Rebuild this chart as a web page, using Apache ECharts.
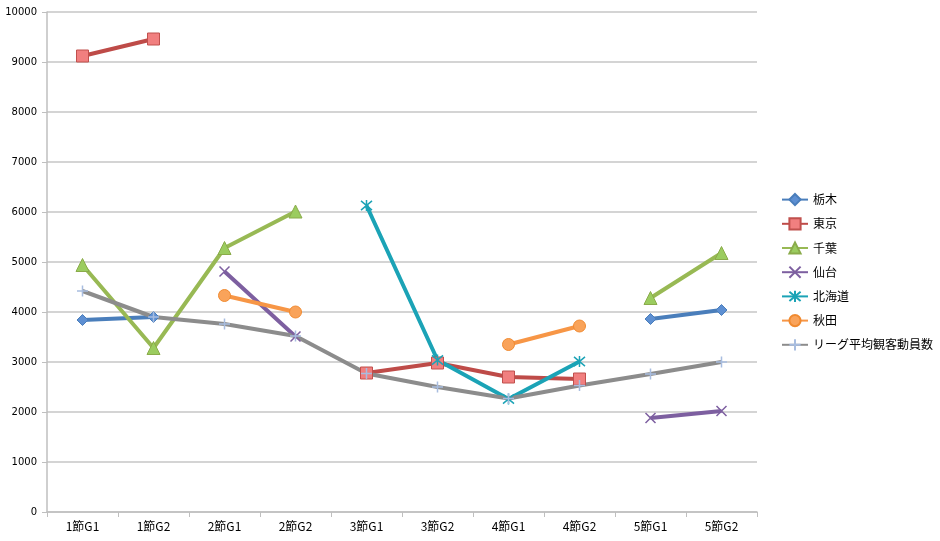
<!DOCTYPE html>
<html><head><meta charset="utf-8">
<script src="https://cdn.jsdelivr.net/npm/echarts@6/dist/echarts.min.js"></script>
<style>html,body{margin:0;padding:0;background:#fff}#c{width:940px;height:541px}</style>
</head><body><div id="c"></div>
<script>
const categories = ['1節G1','1節G2','2節G1','2節G2','3節G1','3節G2','4節G1','4節G2','5節G1','5節G2'];
const tochigi  = [3840, 3900, null, null, null, null, null, null, 3860, 4040];
const tokyo    = [9120, 9460, null, null, 2780, 2980, 2700, 2660, null, null];
const chiba    = [4940, 3280, 5280, 6010, null, null, null, null, 4280, 5180];
const sendai   = [null, null, 4810, 3510, null, null, null, null, 1880, 2020];
const hokkaido = [null, null, null, null, 6130, 3040, 2260, 3010, null, null];
const akita    = [null, null, 4330, 4000, null, null, 3350, 3720, null, null];
const leagueAvg= [4420, 3900, 3760, 3520, 2770, 2500, 2270, 2530, 2760, 3000];
const yTicks = [0,1000,2000,3000,4000,5000,6000,7000,8000,9000,10000];

const X = 'path://M0,0L10,10M10,0L0,10';
const STAR = 'path://M0,0L10,10M10,0L0,10M5,-1L5,11';
const PLUS = 'path://M5,0L5,10M0,5L10,5';

function s(name, data, color, symbol, size, mfill, mborder, bw) {
  return {
    name, type: 'line', data, symbol, symbolSize: size,
    lineStyle: { color, width: 4 },
    itemStyle: { color: mfill, borderColor: mborder, borderWidth: bw },
    emphasis: { disabled: true },
    z: 2
  };
}
const chart = echarts.init(document.getElementById('c'));
chart.setOption({
  animation: false,
  color: ['#4a7ebb','#be4b48','#98b954','#7d5fa0','#1ba3b6','#f79646','#8c8c8c'],
  grid: { left: 47, right: 183, top: 12, bottom: 29, containLabel: false },
  legend: {
    orient: 'vertical', left: 776, top: 188, itemGap: 11, itemWidth: 26, itemHeight: 14,
    textStyle: { fontSize: 12, color: '#000', fontFamily: 'Noto Sans CJK JP' },
    data: ['栃木','東京','千葉','仙台','北海道','秋田','リーグ平均観客動員数']
  },
  xAxis: {
    type: 'category', data: categories, boundaryGap: true,
    axisLine: { lineStyle: { color: '#bfbfbf', width: 1.5 } },
    axisTick: { show: true, alignWithLabel: false, length: 5, lineStyle: { color: '#bfbfbf' } },
    axisLabel: { color: '#000', fontSize: 12, margin: 8, fontFamily: 'Noto Sans CJK JP' }
  },
  yAxis: {
    type: 'value', min: yTicks[0], max: yTicks[yTicks.length-1], interval: 1000,
    axisLine: { show: true, lineStyle: { color: '#bfbfbf', width: 1.5 } },
    axisTick: { show: true, length: 5, lineStyle: { color: '#bfbfbf' } },
    axisLabel: { color: '#000', fontSize: 10, margin: 10, fontFamily: 'DejaVu Sans', formatter: v => String(v) },
    splitLine: { lineStyle: { color: '#c6c6c6', width: 1.5 } }
  },
  series: [
    s('栃木', tochigi, '#4a7ebb', 'diamond', 11, '#5d8fd2', '#4a7ebb', 1),
    s('東京', tokyo, '#be4b48', 'rect', 12, '#f17f7f', '#c0504d', 1),
    s('千葉', chiba, '#98b954', 'triangle', 13, '#9bcc5f', '#8aab4a', 1),
    s('仙台', sendai, '#7d5fa0', X, 10, 'rgba(0,0,0,0)', '#7d5fa0', 1.5),
    s('北海道', hokkaido, '#1ba3b6', STAR, 11, 'rgba(0,0,0,0)', '#1ba3b6', 1.5),
    s('秋田', akita, '#f79646', 'circle', 12, '#f9a35a', '#f08a30', 1),
    s('リーグ平均観客動員数', leagueAvg, '#8c8c8c', PLUS, 11, 'rgba(0,0,0,0)', '#a8bde0', 1.5)
  ]
});
</script></body></html>
